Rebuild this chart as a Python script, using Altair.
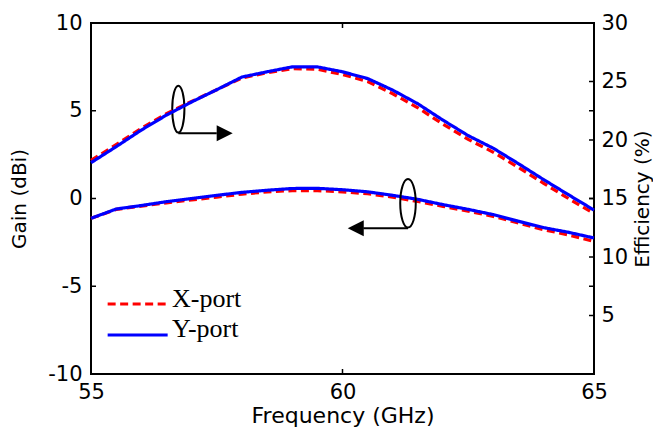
import altair as alt
import pandas as pd

# ---------------- data ----------------
freq = [55.0, 55.5, 56.0, 56.5, 57.0, 57.5, 58.0, 58.5, 59.0, 59.5, 60.0,
        60.5, 61.0, 61.5, 62.0, 62.5, 63.0, 63.5, 64.0, 64.5, 65.0]
ports = ["X-port", "Y-port"]

gain_x = [-1.13, -0.62, -0.43, -0.25, -0.08, 0.08, 0.25, 0.38, 0.45, 0.45, 0.38,
          0.27, 0.08, -0.17, -0.45, -0.72, -1.02, -1.40, -1.78, -2.08, -2.45]
gain_y = [-1.13, -0.60, -0.40, -0.18, 0.00, 0.18, 0.35, 0.47, 0.57, 0.58, 0.50,
          0.38, 0.18, -0.05, -0.35, -0.62, -0.92, -1.30, -1.66, -1.93, -2.25]

eff_x = [18.25, 19.60, 21.00, 22.25, 23.30, 24.30, 25.30, 25.75, 26.10, 26.05, 25.60,
         25.00, 23.95, 22.75, 21.35, 20.05, 18.95, 17.65, 16.30, 14.98, 13.72]
eff_y = [18.06, 19.43, 20.85, 22.13, 23.25, 24.30, 25.38, 25.83, 26.25, 26.25, 25.83,
         25.25, 24.26, 23.09, 21.69, 20.37, 19.29, 17.97, 16.61, 15.30, 14.01]

freq_ticks = [55, 60, 65]
gain_ticks = [-10, -5, 0, 5, 10]
eff_ticks = [0, 5, 10, 15, 20, 25, 30]
eff_labels = [5, 10, 15, 20, 25, 30]

colors = ["#ff0000", "#0000ff"]
dashes = [[8, 4.5], [1, 0]]

# annotation positions (data units: GHz, dBi)
ell_f = [56.736, 61.302]
ell_g = [5.09, -0.274]
arrow_start = [56.736, 61.302]
arrow_end = [57.50, 60.414]
arrow_g = [3.715, -1.698]
head_f_right = [57.658]
head_g_right = [3.715]
head_f_left = [60.264]
head_g_left = [-1.698]

# in-plot legend positions (data units)
leg_f1 = [55.331, 55.331]
leg_f2 = [56.504, 56.524]
leg_g = [-6.011, -7.778]
leg_text_f = [56.61, 56.61]
leg_text_g = [-6.165, -7.875]

# ---------------- chart ----------------
W, H = 503, 351
FONT = "DejaVu Sans"

gain_df = pd.DataFrame({"freq": freq * 2, "gain": gain_x + gain_y,
                        "port": [ports[0]] * len(freq) + [ports[1]] * len(freq)})
eff_df = pd.DataFrame({"freq": freq * 2, "eff": eff_x + eff_y,
                       "port": [ports[0]] * len(freq) + [ports[1]] * len(freq)})

xscale = alt.Scale(domain=[55, 65], nice=False, zero=False)
gscale = alt.Scale(domain=[-10, 10], nice=False, zero=False)
escale = alt.Scale(domain=[0, 30], nice=False, zero=False)

color = alt.Color("port:N", scale=alt.Scale(domain=ports, range=colors), legend=None)
dash = alt.StrokeDash("port:N", scale=alt.Scale(domain=ports, range=dashes), legend=None)

x_axis = alt.Axis(values=freq_ticks, title="Frequency (GHz)", labelFlush=False,
                  labelPadding=7, titleX=W / 2, titleY=48, titleBaseline="alphabetic",
                  titleAlign="center", orient="bottom", labelExpr="'' + datum.value",
                  titleFontSize=22)
g_axis = alt.Axis(values=gain_ticks, title="Gain (dBi)", labelPadding=9,
                  titleAngle=270, titleX=-66, titleY=H / 2, titleBaseline="alphabetic",
                  titleAlign="center", orient="left", labelExpr="'' + datum.value")
e_axis = alt.Axis(values=eff_labels, title="Efficiency (%)", labelPadding=7,
                  titleAngle=270, titleX=54, titleY=H / 2, titleBaseline="alphabetic",
                  titleAlign="center", orient="right", labelExpr="'' + datum.value")


def X(field):
    return alt.X(field, type="quantitative", scale=xscale, axis=x_axis)


def G(field):
    return alt.Y(field, type="quantitative", scale=gscale, axis=g_axis)


def E(field):
    return alt.Y(field, type="quantitative", scale=escale, axis=e_axis)


gain_lines = alt.Chart(gain_df).mark_line(strokeWidth=3.2).encode(
    x=X("freq"), y=G("gain"), color=color, strokeDash=dash)

gt_df = pd.DataFrame({"gain": gain_ticks})
gtick_l = alt.Chart(gt_df).mark_rule(color="black", strokeWidth=1.5).encode(
    y=G("gain"), x=alt.value(0), x2=alt.value(5))
gtick_r = alt.Chart(gt_df).mark_rule(color="black", strokeWidth=1.5).encode(
    y=G("gain"), x=alt.value(W - 5), x2=alt.value(W))

ft_df = pd.DataFrame({"freq": freq_ticks})
ftick_b = alt.Chart(ft_df).mark_rule(color="black", strokeWidth=1.5).encode(
    x=X("freq"), y=alt.value(H - 5), y2=alt.value(H))
ftick_t = alt.Chart(ft_df).mark_rule(color="black", strokeWidth=1.5).encode(
    x=X("freq"), y=alt.value(0), y2=alt.value(5))

ell1 = alt.Chart(pd.DataFrame({"freq": ell_f[:1], "gain": ell_g[:1]})).mark_point(
    shape="M0,-1 A0.26,1 0 1,1 0,1 A0.26,1 0 1,1 0,-1 Z", size=2200,
    filled=False, stroke="black", strokeWidth=2, opacity=1).encode(
    x=X("freq"), y=G("gain"))
ell2 = alt.Chart(pd.DataFrame({"freq": ell_f[1:], "gain": ell_g[1:]})).mark_point(
    shape="M0,-1 A0.32,1 0 1,1 0,1 A0.32,1 0 1,1 0,-1 Z", size=2350,
    filled=False, stroke="black", strokeWidth=2, opacity=1).encode(
    x=X("freq"), y=G("gain"))

arrows = alt.Chart(pd.DataFrame({"freq": arrow_start, "f2": arrow_end, "gain": arrow_g})).mark_rule(
    color="black", strokeWidth=2).encode(x=X("freq"), x2="f2:Q", y=G("gain"))
head_r = alt.Chart(pd.DataFrame({"freq": head_f_right, "gain": head_g_right})).mark_point(
    shape="M-1,-1 L1,0 L-1,1 Z", size=256, filled=True, color="black", opacity=1).encode(
    x=X("freq"), y=G("gain"))
head_l = alt.Chart(pd.DataFrame({"freq": head_f_left, "gain": head_g_left})).mark_point(
    shape="M1,-1 L-1,0 L1,1 Z", size=256, filled=True, color="black", opacity=1).encode(
    x=X("freq"), y=G("gain"))

leg_df = pd.DataFrame({"freq": leg_f1, "f2": leg_f2, "gain": leg_g, "port": ports,
                       "tf": leg_text_f, "tg": leg_text_g})
leg_lines = alt.Chart(leg_df).mark_rule(strokeWidth=3.2).encode(
    x=X("freq"), x2="f2:Q", y=G("gain"), color=color, strokeDash=dash)
leg_text = alt.Chart(leg_df).mark_text(font="Liberation Serif", fontSize=26, align="left",
                                       baseline="alphabetic", color="black").encode(
    x=X("tf"), y=G("tg"), text="port:N")

eff_lines = alt.Chart(eff_df).mark_line(strokeWidth=3.2).encode(
    x=X("freq"), y=E("eff"), color=color, strokeDash=dash)
et_df = pd.DataFrame({"eff": eff_ticks})
etick = alt.Chart(et_df).mark_rule(color="black", strokeWidth=1.5).encode(
    y=E("eff"), x=alt.value(W - 5), x2=alt.value(W))

gain_layer = alt.layer(gain_lines, gtick_l, gtick_r, ftick_b, ftick_t, ell1, ell2,
                       arrows, head_r, head_l, leg_lines, leg_text)
eff_layer = alt.layer(eff_lines, etick)

chart = alt.layer(gain_layer, eff_layer).resolve_scale(y="independent").properties(
    width=W, height=H, autosize=alt.AutoSizeParams(type="none"),
    padding={"left": 83, "top": 15, "right": 59, "bottom": 53},
    background="white",
).configure_view(stroke="black", strokeWidth=2).configure_axis(
    labelFont=FONT, labelFontSize=21, labelColor="black",
    titleFont=FONT, titleFontSize=20, titleFontWeight="normal", titleColor="black",
    ticks=False, tickSize=0, domain=False, grid=False,
)

chart.save("out.html", embed_options={"renderer": "svg", "actions": False})
